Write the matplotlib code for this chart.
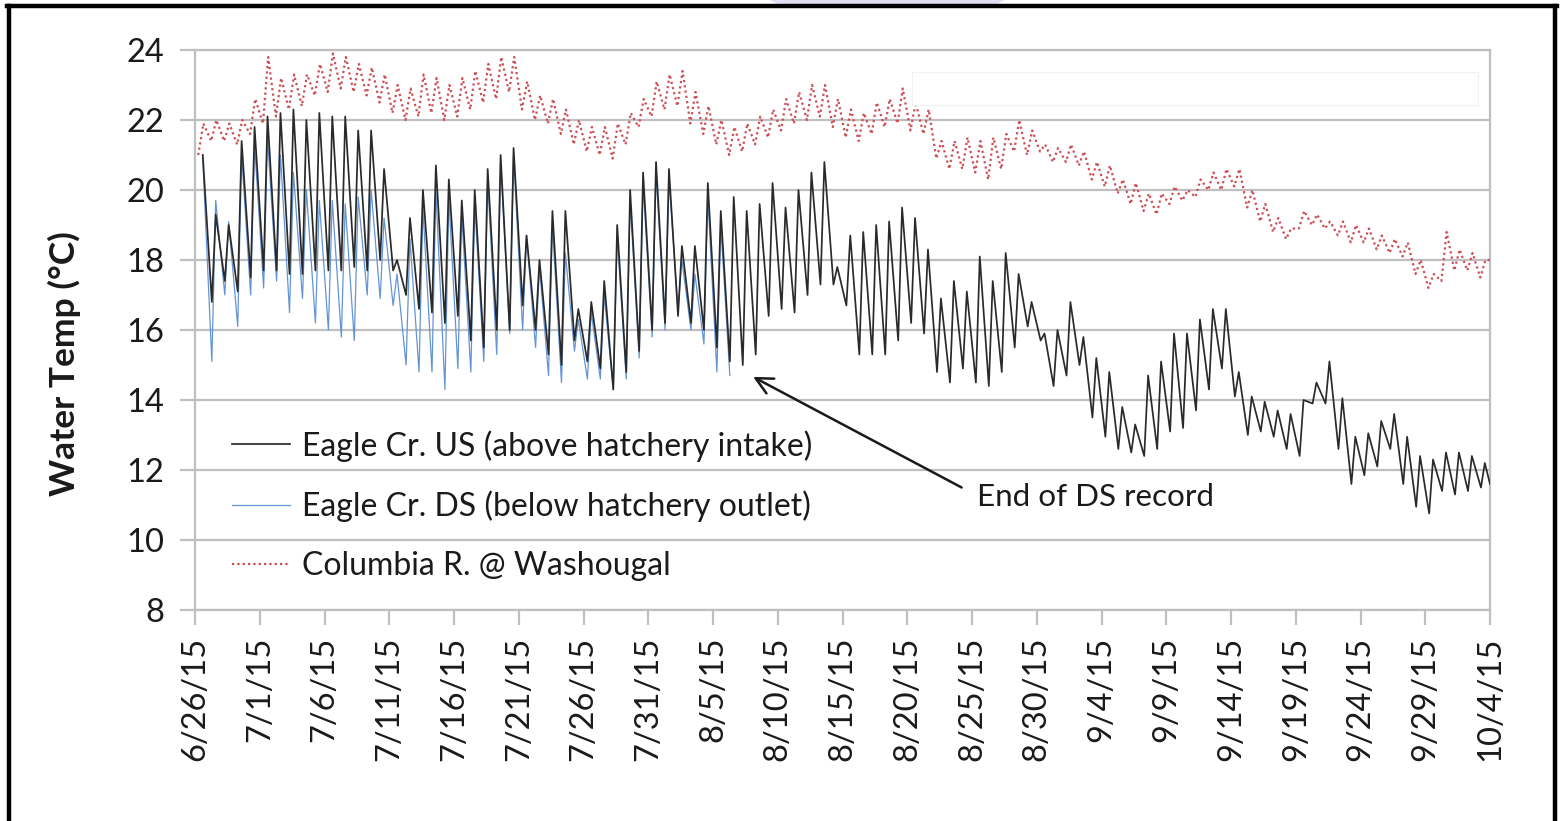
import matplotlib
matplotlib.use('Agg')
import matplotlib.pyplot as plt
import matplotlib.dates as mdates
from matplotlib.lines import Line2D
from matplotlib.patches import Rectangle, Polygon
from datetime import datetime

plt.rcParams['font.family'] = ['Lato', 'DejaVu Sans']

# ---------------- data ----------------
start_date = '6/26/15'
end_date = '10/4/15'
tick_labels = ['6/26/15', '7/1/15', '7/6/15', '7/11/15', '7/16/15', '7/21/15',
               '7/26/15', '7/31/15', '8/5/15', '8/10/15', '8/15/15', '8/20/15',
               '8/25/15', '8/30/15', '9/4/15', '9/9/15', '9/14/15', '9/19/15',
               '9/24/15', '9/29/15', '10/4/15']
y_ticks = [8, 10, 12, 14, 16, 18, 20, 22, 24]

series_names = ['Eagle Cr. US (above hatchery intake)',
                'Eagle Cr. DS (below hatchery outlet)',
                'Columbia R. @ Washougal']

# Eagle Cr. US: daily max (day 0..99), daily min (day 1..99), last reading
us_max = [21.0, 19.3, 19.0, 21.4, 21.8, 22.1, 22.2, 22.3, 22.0, 22.2,
          22.1, 22.1, 21.7, 21.7, 20.6, 18.0, 19.2, 20.0, 20.7, 20.3,
          19.7, 20.0, 20.6, 21.0, 21.2, 18.7, 18.0, 19.4, 19.4, 16.6,
          16.8, 17.4, 19.0, 20.0, 20.5, 20.8, 20.6, 18.4, 18.4, 20.2,
          19.4, 19.8, 19.4, 19.6, 20.2, 19.5, 20.0, 20.5, 20.8, 17.8,
          18.7, 18.8, 19.0, 19.1, 19.5, 19.2, 18.3, 16.9, 17.4, 17.1,
          18.1, 17.4, 18.2, 17.6, 16.8, 15.9, 16.0, 16.8, 15.8, 15.2,
          14.8, 13.8, 13.3, 14.7, 15.1, 15.9, 15.9, 16.3, 16.6, 16.6,
          14.8, 14.1, 13.95, 13.7, 13.6, 14.0, 14.5, 15.1, 14.05, 12.95,
          13.05, 13.4, 13.6, 12.95, 12.4, 12.3, 12.5, 12.5, 12.4, 12.2]
us_min = [16.8, 17.4, 17.1, 17.5, 17.7, 17.7, 17.6, 17.6, 17.7,
          17.7, 17.7, 17.8, 17.7, 18.0, 17.7, 17.0, 16.6, 16.5, 16.2,
          16.4, 15.7, 15.5, 16.0, 16.0, 16.7, 16.0, 15.3, 15.0, 15.7,
          15.1, 14.9, 14.3, 14.8, 15.4, 16.0, 16.2, 16.4, 16.2, 16.0,
          15.5, 15.1, 15.0, 15.3, 16.4, 16.6, 16.5, 17.0, 17.3, 17.3,
          16.7, 15.3, 15.3, 15.3, 15.7, 16.2, 15.9, 14.8, 14.5, 14.9,
          14.5, 14.4, 14.8, 15.5, 16.1, 15.7, 14.4, 14.7, 15.0, 13.5,
          12.95, 12.6, 12.5, 12.4, 12.6, 13.1, 13.2, 13.7, 14.3, 14.9,
          14.1, 13.0, 13.1, 12.95, 12.6, 12.4, 13.9, 13.9, 12.6, 11.6,
          11.85, 12.1, 12.6, 11.6, 10.95, 10.76, 11.4, 11.3, 11.4, 11.5]
us_last = 11.6

# Eagle Cr. DS: daily max (day 0..40), daily min (day 1..41)
ds_max = [20.9, 19.7, 19.1, 21.0, 21.3, 21.5, 21.0, 20.5, 20.0, 19.7,
          19.7, 19.6, 19.8, 20.0, 19.2, 17.6, 18.6, 19.5, 20.0, 19.8,
          19.3, 19.6, 20.3, 20.8, 21.0, 18.7, 17.8, 19.0, 18.2, 16.3,
          16.5, 17.0, 18.7, 19.7, 20.2, 20.5, 20.3, 18.0, 17.6, 19.8,
          19.0]
ds_min = [15.1, 17.0, 16.1, 17.0, 17.2, 17.4, 16.5, 16.9, 16.2, 16.0,
          15.8, 15.7, 17.0, 16.9, 16.7, 15.0, 14.8, 14.8, 14.3, 14.9,
          14.8, 15.1, 15.3, 15.9, 16.0, 15.5, 14.7, 14.5, 15.4, 14.6,
          14.6, 14.3, 14.6, 15.2, 15.8, 16.0, 16.6, 16.0, 15.6, 14.8,
          14.7]

# Columbia R.: daily min and max (day 0..99), last reading
cr_min = [21.0, 21.4, 21.4, 21.3, 21.6, 21.9, 22.1, 22.3, 22.4, 22.7,
          22.8, 22.9, 22.8, 22.7, 22.5, 22.2, 22.0, 22.1, 22.2, 22.0,
          22.1, 22.3, 22.5, 22.6, 22.8, 22.3, 22.0, 21.9, 21.6, 21.3,
          21.1, 21.0, 20.9, 21.3, 21.8, 22.1, 22.3, 22.4, 21.9, 21.6,
          21.3, 21.0, 21.1, 21.3, 21.5, 21.7, 21.9, 22.0, 22.1, 21.8,
          21.5, 21.4, 21.6, 21.8, 21.9, 21.7, 21.6, 20.9, 20.6, 20.6,
          20.5, 20.3, 20.6, 21.1, 21.0, 21.1, 20.8, 20.8, 20.7, 20.3,
          20.1, 19.9, 19.6, 19.4, 19.3, 19.6, 19.7, 19.8, 20.0, 20.0,
          20.1, 19.5, 19.1, 18.8, 18.6, 18.9, 19.0, 18.9, 18.7, 18.5,
          18.5, 18.3, 18.2, 18.1, 17.6, 17.2, 17.4, 17.7, 17.7, 17.5]
cr_max = [21.9, 22.0, 21.9, 22.0, 22.6, 23.8, 23.2, 23.3, 23.3, 23.6,
          23.9, 23.8, 23.6, 23.5, 23.3, 23.0, 22.9, 23.3, 23.2, 23.0,
          23.2, 23.4, 23.6, 23.8, 23.8, 23.1, 22.7, 22.6, 22.3, 22.0,
          21.8, 21.8, 21.9, 22.2, 22.6, 23.1, 23.3, 23.4, 22.8, 22.4,
          22.0, 21.8, 21.9, 22.1, 22.3, 22.6, 22.8, 23.0, 23.0, 22.6,
          22.3, 22.2, 22.5, 22.6, 22.9, 22.5, 22.3, 21.4, 21.4, 21.5,
          21.4, 21.5, 21.6, 22.0, 21.7, 21.3, 21.2, 21.3, 21.1, 20.8,
          20.7, 20.3, 20.2, 19.9, 19.9, 20.1, 20.0, 20.3, 20.5, 20.6,
          20.6, 20.0, 19.6, 19.2, 18.9, 19.4, 19.3, 19.1, 19.1, 19.0,
          18.9, 18.7, 18.6, 18.5, 18.0, 17.6, 18.8, 18.3, 18.2, 18.0]
cr_last = 18.0

# ---------------- build time series ----------------
def d2n(s):
    return mdates.date2num(datetime.strptime(s, '%m/%d/%y'))

base = d2n(start_date)

us_t = [base + 0.6]
us_v = [us_max[0]]
for d in range(1, len(us_max)):
    us_t += [base + d + 0.3, base + d + 0.6]
    us_v += [us_min[d - 1], us_max[d]]
us_t.append(base + len(us_max))
us_v.append(us_last)

ds_t = [base + 0.6]
ds_v = [ds_max[0]]
for d in range(1, len(ds_max)):
    ds_t += [base + d + 0.3, base + d + 0.6]
    ds_v += [ds_min[d - 1], ds_max[d]]
ds_t.append(base + len(ds_max) + 0.3)
ds_v.append(ds_min[len(ds_max) - 1])

cr_t, cr_v = [], []
for d in range(len(cr_max)):
    cr_t += [base + d + 0.25, base + d + 0.65]
    cr_v += [cr_min[d], cr_max[d]]
cr_t.append(base + len(cr_max))
cr_v.append(cr_last)

# ---------------- figure ----------------
W, H = 1563, 821
fig = plt.figure(figsize=(W / 100, H / 100), dpi=100)
fig.patch.set_facecolor('white')
ax = fig.add_axes([195 / W, 1 - 610 / H, 1295 / W, 560 / H])

grid_c = '#bfbfbf'
txt_c = '#1a1a1a'
ax.set_xlim(d2n(start_date), d2n(end_date))
ax.set_ylim(8, 24)
ax.set_yticks(y_ticks)
ax.yaxis.grid(True, color=grid_c, lw=1.6, zorder=0)
ax.set_axisbelow(True)
for sp in ax.spines.values():
    sp.set_color(grid_c)
    sp.set_linewidth(1.6)

ax.set_xticks([d2n(l) for l in tick_labels])
ax.set_xticklabels(tick_labels, rotation=90, fontsize=23.5, color=txt_c)
ax.tick_params(axis='x', length=11, width=1.6, color=grid_c, pad=8)
ax.tick_params(axis='y', length=11, width=1.6, color=grid_c, pad=11,
               labelsize=23.5, labelcolor=txt_c)

l_ds, = ax.plot(ds_t, ds_v, color='#6394d6', lw=0.9, zorder=2, label=series_names[1])
l_us, = ax.plot(us_t, us_v, color='#2a2a2a', lw=1.25, zorder=3, label=series_names[0])
l_cr, = ax.plot(cr_t, cr_v, color='#cc4f55', lw=1.6, ls=(0, (1, 1.4)), zorder=4,
                label=series_names[2])

# white patch covering part of the plot (as in the source image)
x0 = base + (912 - 195) / 12.95
x1 = base + (1478 - 195) / 12.95
ax.add_patch(Rectangle((x0, 22.43), x1 - x0, 0.94, facecolor='white',
                       edgecolor='#f2f2f2', lw=0.8, zorder=6))

leg = ax.legend(handles=[l_us, l_ds, l_cr], loc='upper left',
                bbox_to_anchor=(232 / W, 1 - 430 / H), bbox_transform=fig.transFigure,
                frameon=False, fontsize=23, handlelength=1.82, handletextpad=0.38,
                labelspacing=0.9, borderpad=0, borderaxespad=0)
for t in leg.get_texts():
    t.set_color(txt_c)

ax.annotate('', xy=(base + 43.1, 14.66), xytext=(base + 59.2, 11.5),
            arrowprops=dict(arrowstyle='->', color=txt_c, lw=1.8,
                            mutation_scale=30, shrinkA=0, shrinkB=0), zorder=7)
ax.text(base + 60.4, 11.22, 'End of DS record', fontsize=22.6, color=txt_c,
        ha='left', va='center', zorder=7)

fig.text(64 / W, 1 - 364 / H, 'Water Temp (°C)', rotation=90, fontsize=25.5,
         fontweight='bold', ha='center', va='center', color=txt_c)

# outer frame of the source screenshot
fig.add_artist(Polygon([[770 / W, 1], [1005 / W, 1], [995 / W, 1 - 5 / H], [780 / W, 1 - 5 / H]],
                       closed=True, transform=fig.transFigure, facecolor='#e3def2',
                       edgecolor='none'))
fig.add_artist(Line2D([9 / W, 9 / W], [0, 1 - 6 / H], transform=fig.transFigure,
                      color='black', lw=3.2))
fig.add_artist(Line2D([7.5 / W, 1556.5 / W], [1 - 6.5 / H, 1 - 6.5 / H],
                      transform=fig.transFigure, color='black', lw=3.2))
fig.add_artist(Line2D([1555 / W, 1555 / W], [0, 1 - 6 / H], transform=fig.transFigure,
                      color='black', lw=3.2))

fig.savefig('out.png', dpi=100, facecolor='white')
